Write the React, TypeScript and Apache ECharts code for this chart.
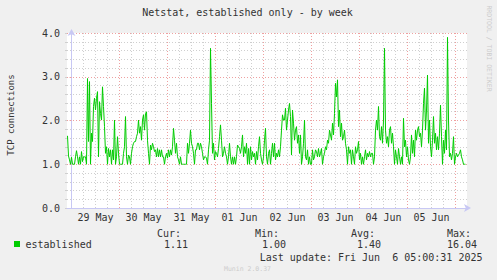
import React, { useEffect, useRef } from "react";
import * as echarts from "echarts";

// x unit: half-hour slot, 0 = 29 May 00:00
const dayLabels = ["29 May", "30 May", "31 May", "01 Jun", "02 Jun", "03 Jun", "04 Jun", "05 Jun"];
const dayLabelSlots = [24, 72, 120, 168, 216, 264, 312, 360];
const dayBoundarySlots = [0, 48, 96, 144, 192, 240, 288, 336, 384];
const firstSlot = -4;

const connections = [
  1.65, 1.19, 1.10, 1.00, 1.16, 1.00, 1.00, 1.00, 1.17, 1.31,
  1.17, 1.00, 1.17, 1.00, 1.29, 1.06, 1.17, 1.17, 1.17, 1.00,
  2.96, 1.52, 2.89, 1.00, 1.71, 1.52, 2.32, 2.51, 2.24, 2.51,
  2.66, 1.17, 2.43, 2.16, 2.01, 2.77, 2.32, 1.86, 1.25, 1.40,
  1.00, 1.36, 1.17, 1.33, 1.00, 1.33, 1.10, 2.01, 1.00, 1.17,
  1.63, 1.25, 1.00, 1.00, 1.00, 1.00, 1.25, 1.40, 2.09, 1.17,
  1.00, 1.21, 1.17, 1.00, 1.25, 1.40, 1.48, 1.52, 1.52, 1.63,
  1.71, 2.01, 1.71, 1.86, 1.55, 2.01, 2.13, 1.78, 2.16, 2.20,
  1.55, 1.25, 1.00, 1.44, 1.33, 1.48, 1.40, 1.29, 1.33, 1.17,
  1.36, 1.17, 1.33, 1.17, 1.33, 1.17, 1.17, 1.00, 1.17, 1.25,
  1.14, 1.33, 1.17, 1.33, 1.21, 1.40, 1.82, 1.55, 1.25, 1.48,
  1.17, 1.10, 1.00, 1.17, 1.00, 1.00, 1.00, 1.00, 1.00, 1.00,
  1.48, 1.25, 1.48, 1.78, 1.48, 1.40, 1.25, 1.00, 1.33, 1.33,
  1.48, 1.48, 1.33, 1.48, 1.40, 1.25, 1.10, 1.17, 1.17, 1.14,
  1.00, 1.33, 1.55, 3.65, 2.39, 1.25, 1.48, 1.10, 1.29, 1.25,
  1.17, 1.36, 1.63, 1.90, 1.55, 1.17, 1.25, 1.40, 1.25, 1.17,
  1.00, 1.17, 1.48, 1.17, 1.00, 1.17, 1.00, 1.17, 1.00, 1.17,
  1.44, 1.40, 1.36, 1.25, 1.40, 1.67, 1.17, 1.40, 1.25, 1.48,
  1.00, 1.36, 1.00, 1.40, 1.10, 1.29, 1.17, 1.25, 1.00, 1.29,
  1.10, 1.40, 1.63, 1.25, 1.10, 1.00, 1.17, 1.55, 1.82, 1.17,
  1.00, 1.25, 1.33, 1.00, 1.25, 1.48, 1.17, 1.48, 1.10, 1.25,
  1.17, 1.33, 1.17,
  1.40, 1.78, 2.13, 2.01, 2.01, 2.28, 1.78,
  2.01, 2.24, 2.39, 2.09, 1.21, 2.24, 1.94, 1.55, 1.78, 1.86,
  1.48, 1.67, 1.25, 1.67, 1.00, 1.17, 1.48, 2.01, 1.17, 1.10,
  1.33, 1.00, 1.17, 1.00, 1.00, 1.33, 1.10, 1.17, 1.33, 1.29,
  1.17, 1.36, 1.17, 1.25, 1.36, 1.00, 1.17, 1.25, 1.40, 1.33,
  1.55, 1.48, 1.78, 1.67, 1.55, 1.94, 1.67, 2.16, 2.85, 2.54,
  2.93, 1.86, 2.24, 1.63, 1.94, 1.55, 1.63, 1.78, 1.48, 1.33,
  1.00, 1.40, 1.25, 1.33, 1.00, 1.33, 1.17, 1.00, 1.40, 1.25,
  1.33, 1.52, 1.10, 1.25, 1.00, 1.17, 1.00, 1.17, 1.33, 1.10,
  1.25, 1.17, 1.29, 1.17, 1.25, 1.25, 1.00, 1.17, 1.78, 2.01,
  1.78, 2.32, 1.63, 1.55, 1.86, 1.48, 2.01, 3.65, 1.78, 1.48,
  1.63, 1.40, 1.78, 1.86, 1.48, 1.71, 1.40, 1.00, 1.33, 1.17,
  1.00, 1.36, 1.17, 1.00, 1.17, 1.00, 2.05, 1.40, 1.55, 1.17,
  1.40, 1.10, 1.00, 1.17, 1.67, 1.25, 1.55, 1.17, 1.78, 1.55,
  1.78, 1.86, 1.63, 1.71, 1.40, 1.78, 2.39, 2.74, 1.78, 2.24,
  3.04, 1.48, 2.01, 1.40, 1.17, 1.55, 2.09, 1.48, 1.71, 1.33,
  1.63, 1.33, 1.71, 2.35, 1.63, 1.00, 1.55, 1.25, 1.78, 1.33,
  3.90, 2.01, 1.17, 1.25, 1.10, 1.25, 1.63, 1.00, 1.17, 1.25,
  1.17, 1.21, 1.25, 1.33, 1.17, 1.10, 1.00, 1.00, 1.00,
];

const legendName = "established";
const statHeaders = ["Cur:", "Min:", "Avg:", "Max:"];
const statValues = ["1.11", "1.00", "1.40", "16.04"];

const MONO = '"DejaVu Sans Mono", monospace';
const RED = "#eea0a0";
const GRAY = "#cfcfcf";
const AXIS = "#c8c8f4";
const TEXT = "#333333";
const GREEN = "#00cc00";

export default function App() {
  const ref = useRef<HTMLDivElement>(null);
  useEffect(() => {
    if (!ref.current) return;
    const chart = echarts.init(ref.current, undefined, { renderer: "svg" });
    const data = connections.map((v, i) => [firstSlot + i, v]);
    const sixHourSlots: number[] = [];
    for (let s = 12; s < 395; s += 12) if (dayBoundarySlots.indexOf(s) < 0) sixHourSlots.push(s);
    const headerX = [157, 255, 351, 447];
    const valueX = [164, 262, 357, 447];
    const txt = (text: string, x: number, y: number, align: string, size = 10, fill = TEXT, rotation = 0) => ({
      type: "text", x, y, rotation, z: 10,
      style: { text, font: `${size}px ${MONO}`, fill, textAlign: align, textVerticalAlign: "middle" },
    });
    const graphic: any[] = [
      txt("Netstat, established only - by week", 247.5, 12, "center"),
      txt("TCP connections", 11, 115, "center", 9, TEXT, Math.PI / 2),
      txt("RRDTOOL / TOBI OETIKER", 489, 48.5, "center", 6.5, "#cccccc", -Math.PI / 2),
      { type: "rect", shape: { x: 14, y: 241, width: 6, height: 6 }, style: { fill: GREEN } },
      txt(legendName, 25.5, 244.5, "left"),
      txt("Last update: Fri Jun  6 05:00:31 2025", 482.5, 257.5, "right"),
      txt("Munin 2.0.37", 247.5, 269, "center", 6.5, "#cccccc"),
    ];
    statHeaders.forEach((h, i) => {
      graphic.push(txt(h, headerX[i], 233, "left"));
      graphic.push(txt(statValues[i], valueX[i], 244.5, "left"));
    });

    const vLines = (vals: number[], color: string, z: number) => ({
      type: "custom", xAxisIndex: 0, yAxisIndex: 0, z, silent: true,
      data: vals.map((v) => [v]),
      renderItem: (_p: any, api: any) => {
        const x = api.value(0);
        const top = api.coord([x, 4]);
        const bottom = api.coord([x, 0]);
        const px = Math.round(top[0] - 0.5) + 0.5;
        return {
          type: "line",
          shape: { x1: px, y1: top[1], x2: px, y2: bottom[1] + 2 },
          style: { stroke: color, lineWidth: 1, lineDash: [1, 2] },
        };
      },
    });

    chart.setOption({
      animation: false,
      backgroundColor: "#f0f0f0",
      textStyle: { fontFamily: MONO },
      grid: { left: 67, top: 33, width: 400, height: 175, show: true, backgroundColor: "#ffffff", borderWidth: 0, containLabel: false },
      xAxis: {
        type: "value", min: -4.5, max: 395.5, position: "bottom", z: 4,
        axisLine: { show: true, lineStyle: { color: AXIS, width: 1 }, symbol: ["none", "arrow"], symbolSize: [6, 7], symbolOffset: [0, 4] },
        axisTick: { show: false },
        splitLine: { show: false },
        axisLabel: { customValues: dayLabelSlots, margin: 4, color: TEXT, fontSize: 10, fontFamily: MONO, formatter: (v: number) => dayLabels[Math.round((v - 24) / 48)] ?? "" },
      },
      yAxis: [
        {
          type: "value", min: 0, max: 4, interval: 1, position: "left", z: 3,
          axisLine: { show: true, lineStyle: { color: AXIS, width: 1 }, symbol: ["none", "arrow"], symbolSize: [6, 7], symbolOffset: [0, 4] },
          axisTick: { show: true, length: 2, lineStyle: { color: RED } },
          splitLine: { show: true, lineStyle: { color: RED, type: [1, 2], width: 1 } },
          axisLabel: { margin: 7, color: TEXT, fontSize: 10, fontFamily: MONO, formatter: (v: number) => v.toFixed(1) },
        },
        {
          type: "value", min: 0, max: 4, interval: 0.2, position: "left", z: 1,
          axisLine: { show: false }, axisLabel: { show: false },
          axisTick: { show: true, length: 2, lineStyle: { color: GRAY } },
          splitLine: { show: true, showMinLine: false, showMaxLine: false, lineStyle: { color: GRAY, type: [1, 2], width: 1 } },
        },
      ],
      series: [
        vLines(sixHourSlots, GRAY, 1),
        vLines(dayBoundarySlots, RED, 2),
        {
          type: "line", xAxisIndex: 0, yAxisIndex: 0, data, showSymbol: false, symbol: "none", z: 5,
          lineStyle: { color: GREEN, width: 1 }, itemStyle: { color: GREEN },
        },
      ],
      graphic,
    });
    return () => chart.dispose();
  }, []);
  return <div ref={ref} style={{ position: "fixed", left: 0, top: 0, width: 497, height: 280 }} />;
}
